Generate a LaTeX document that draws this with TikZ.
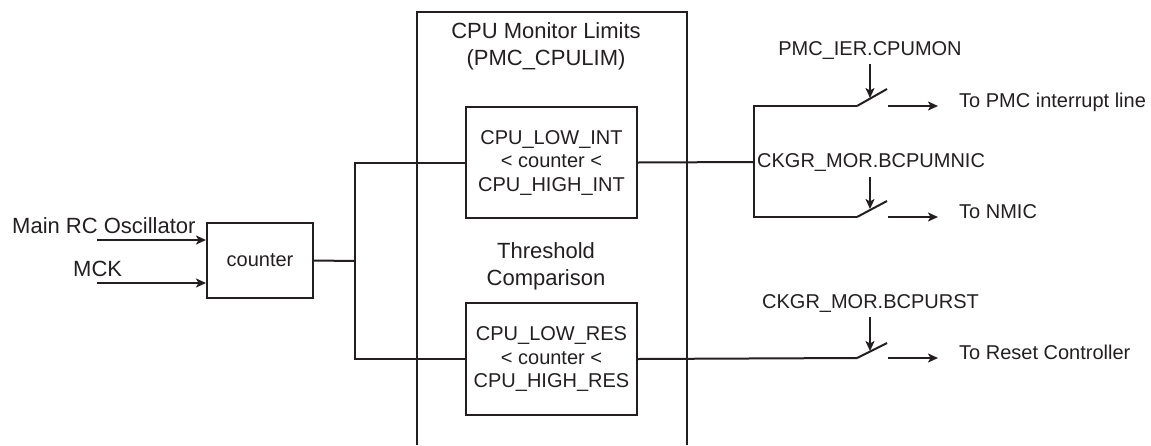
\documentclass[tikz,border=0pt]{standalone}
\usepackage{fontspec}
\setmainfont{Liberation Sans}
\usetikzlibrary{arrows.meta}
\definecolor{ink}{RGB}{35,31,32}
\begin{document}
\begin{tikzpicture}[x=1pt,y=-1pt,
  line/.style={draw=ink,line width=2pt},
  arr/.style={line,-{Stealth[length=10pt,width=9pt,inset=2.5pt]}},
  blk/.style={draw=ink,line width=2pt,inner sep=0pt,align=center,text=ink,
    font=\fontsize{20}{23.5}\selectfont},
  big/.style={inner sep=0pt,align=center,text=ink,font=\fontsize{22}{27}\selectfont},
  lbl/.style={inner sep=0pt,text=ink,font=\fontsize{20}{24}\selectfont}]
\useasboundingbox (0,0) rectangle (1151,445);

% outer monitor frame (open at bottom)
\draw[line] (417,445) -- (417,12) -- (687,12) -- (687,445);

% input labels and counter
\node[big,anchor=base west] (rc) at (12,233) {Main RC Oscillator};
\node[big,anchor=base west] (mck) at (73,276) {MCK};
\node[blk,minimum width=106pt,minimum height=75pt] (cnt) at (260,260.5) {counter};
\coordinate (rcin) at (97,240);
\coordinate (mckin) at (97,283);
\draw[arr] (rcin) -- (rcin -| cnt.west);
\draw[arr] (mckin) -- (mckin -| cnt.west);

% frame texts
\node[big,anchor=base] (title) at (546,65) {CPU Monitor Limits\\(PMC\_CPULIM)};
\node[big,anchor=base] (thr) at (546,285) {Threshold\\Comparison};

% comparator boxes
\node[blk,minimum width=171pt,minimum height=111pt] (int) at (551.5,162.5)
  {CPU\_LOW\_INT\\< counter <\\CPU\_HIGH\_INT};
\node[blk,minimum width=171pt,minimum height=112pt] (res) at (551.5,359)
  {CPU\_LOW\_RES\\< counter <\\CPU\_HIGH\_RES};

% left bus
\coordinate (busL) at (355,261);
\draw[line] (cnt.east) -- (busL);
\draw[line] (int.west) -| (busL) |- (res.west);

% right side
\coordinate (busR) at (754,162);
\coordinate (sw1a) at (857,106);
\coordinate (sw1b) at (887,89);
\coordinate (sw2a) at (857,217);
\coordinate (sw2b) at (887,201);
\coordinate (sw3a) at (857,358);
\coordinate (sw3b) at (887,343);
\draw[line] (int.east) -- (busR);
\draw[line] (sw1a) -| (busR) |- (sw2a);
\draw[line] (res.east) -- (sw3a);
\draw[line] (sw1a) -- (sw1b);
\draw[line] (sw2a) -- (sw2b);
\draw[line] (sw3a) -- (sw3b);

% output labels and arrows
\node[lbl,anchor=base west] (o1) at (959,107) {To PMC interrupt line};
\node[lbl,anchor=base west] (o2) at (959,218) {To NMIC};
\node[lbl,anchor=base west] (o3) at (959,359) {To Reset Controller};
\coordinate (o1s) at (888,106); \coordinate (o1e) at (938,106);
\coordinate (o2s) at (888,217); \coordinate (o2e) at (938,217);
\coordinate (o3s) at (888,358); \coordinate (o3e) at (938,358);
\draw[arr] (o1s) -- (o1e);
\draw[arr] (o2s) -- (o2e);
\draw[arr] (o3s) -- (o3e);

% control labels and arrows
\node[lbl,anchor=base] (c1) at (870,55) {PMC\_IER.CPUMON};
\node[lbl,anchor=base west] (c2) at (757,167) {CKGR\_MOR.BCPUMNIC};
\node[lbl,anchor=base] (c3) at (870.5,308) {CKGR\_MOR.BCPURST};
\coordinate (c1s) at (870,64); \coordinate (c1e) at (870,98);
\coordinate (c2s) at (870,177); \coordinate (c2e) at (870,209);
\coordinate (c3s) at (870,317); \coordinate (c3e) at (870,351);
\draw[arr] (c1s) -- (c1e);
\draw[arr] (c2s) -- (c2e);
\draw[arr] (c3s) -- (c3e);
\end{tikzpicture}
\end{document}
